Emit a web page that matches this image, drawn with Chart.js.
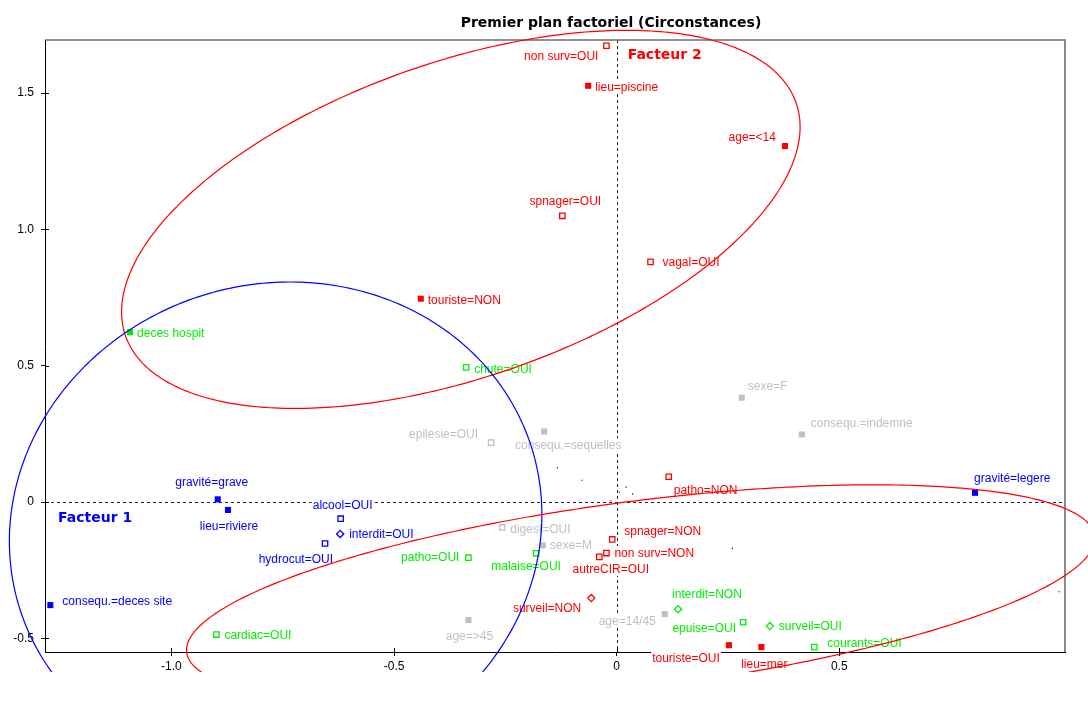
<!DOCTYPE html>
<html><head><meta charset="utf-8">
<script src="https://cdn.jsdelivr.net/npm/chart.js@4.4.1/dist/chart.umd.min.js"></script>
<style>html,body{margin:0;padding:0;background:#fff;overflow:hidden}</style>
</head><body>
<canvas id="c" width="1088" height="717"></canvas>
<script>
// ---- data ----
const modalities = ['non surv=OUI','lieu=piscine','age=<14','spnager=OUI','vagal=OUI','touriste=NON','patho=NON','spnager=NON','non surv=NON','autreCIR=OUI','surveil=NON','touriste=OUI','lieu=mer','gravité=grave','lieu=riviere','alcool=OUI','interdit=OUI','hydrocut=OUI','consequ.=deces site','gravité=legere','deces hospit','chute=OUI','patho=OUI','malaise=OUI','cardiac=OUI','interdit=NON','epuise=OUI','surveil=OUI','courants=OUI','sexe=F','consequ.=indemne','epilesie=OUI','consequ.=sequelles','digest=OUI','sexe=M','age=>45','age=14/45'];
const factor1 = [-0.023,-0.064,0.378,-0.122,0.076,-0.440,0.117,-0.010,-0.023,-0.039,-0.057,0.252,0.325,-0.896,-0.873,-0.620,-0.621,-0.655,-1.272,0.805,-1.093,-0.338,-0.333,-0.181,-0.899,0.138,0.284,0.344,0.444,0.281,0.416,-0.282,-0.163,-0.257,-0.166,-0.333,0.108];
const factor2 = [1.674,1.527,1.306,1.050,0.881,0.746,0.093,-0.137,-0.187,-0.201,-0.352,-0.525,-0.532,0.010,-0.029,-0.061,-0.117,-0.152,-0.378,0.034,0.623,0.494,-0.204,-0.188,-0.486,-0.393,-0.441,-0.455,-0.532,0.383,0.248,0.218,0.259,-0.093,-0.159,-0.433,-0.411];
const groups = ['red','red','red','red','red','red','red','red','red','red','red','red','red','blue','blue','blue','blue','blue','blue','blue','green','green','green','green','green','green','green','green','green','gray','gray','gray','gray','gray','gray','gray','gray'];
const markers = ['open','filled','filled','open','open','filled','open','open','open','open','diamond','filled','filled','filled','filled','open','diamond','open','filled','filled','filled','open','open','open','open','diamond','open','diamond','open','filled','filled','open','filled','open','filled','filled','filled'];
const extraX = [-0.133,-0.078,0.021,0.006,0.036,-0.013,0.260,0.994];
const extraY = [0.126,0.080,0.055,0.036,0.030,0.005,-0.170,-0.329];
const xTicks = [-1.0,-0.5,0,0.5];
const yTicks = [-0.5,0,0.5,1.0,1.5];
const ellipseCx = [-0.350,-0.766,0.054];
const ellipseCy = [1.037,-0.095,-0.338];
const ellipseUx = [0.762,0.598,1.020];
const ellipseUy = [0.339,0.049,0.205];
const ellipseV  = [0.605,0.901,0.345];
const ellipseGroup = ['red','blue','red'];

// ---- layout / style ----
const labelPlacement = [
 [-8,10,'right'],[7,1,'left'],[-9,-9,'right'],[3,-15,'center'],[12,0,'left'],[7,1,'left'],[5,13,'left'],
 [12,-8,'left'],[8,0,'left'],[11.5,12,'center'],[-10,10,'right'],[-9,13,'right'],[3,17,'center'],
 [-6,-17,'center'],[1,16,'center'],[2,-14,'center'],[9,0,'left'],[8,16,'right'],[12,-4,'left'],[-1,-15,'left'],
 [7,1,'left'],[8,2,'left'],[-9,0,'right'],[-10,13,'center'],[8,1,'left'],[-6,-15,'left'],[-7,6,'right'],[9,0,'left'],[13,-4,'left'],
 [6,-11,'left'],[9,-11,'left'],[-13,-8,'right'],[-29,14,'left'],[8,2,'left'],[7,0,'left'],[1,16,'center'],[-9,7,'right']
];
const palette = {red:'#FF0000', blue:'#0000FF', green:'#00EE00', gray:'#C0C0C0'};
const col = g => palette[g];
const fmt = v => v === 0 ? '0' : Number(v).toFixed(1);
const LABEL_FONT = '12px "Liberation Sans", Arial, sans-serif';
const BOLD_FONT = 'bold 14px "DejaVu Sans", Verdana, sans-serif';

Chart.defaults.font.family = '"Liberation Sans", Arial, sans-serif';

const overlay = {
  id: 'overlay',
  beforeDatasetsDraw(chart) {
    const {ctx, chartArea: a, scales: {x, y}} = chart;
    ctx.save();
    // dashed zero axes
    ctx.strokeStyle = '#222'; ctx.lineWidth = 1; ctx.setLineDash([3, 3]);
    const x0 = Math.round(x.getPixelForValue(0)) + 0.5;
    const y0 = Math.round(y.getPixelForValue(0)) + 0.5;
    ctx.beginPath();
    ctx.moveTo(a.left, y0); ctx.lineTo(a.right, y0);
    ctx.moveTo(x0, a.top); ctx.lineTo(x0, a.bottom);
    ctx.stroke();
    ctx.setLineDash([]);
    // point labels with white background
    const meta = chart.getDatasetMeta(0);
    ctx.font = LABEL_FONT; ctx.textBaseline = 'middle';
    meta.data.forEach((pt, i) => {
      const [dx, dy, al] = labelPlacement[i];
      const tx = pt.x + dx, ty = pt.y + dy;
      const w = ctx.measureText(modalities[i]).width;
      const left = al === 'left' ? tx : (al === 'right' ? tx - w : tx - w / 2);
      ctx.fillStyle = '#fff';
      ctx.fillRect(left - 1, ty - 7, w + 2, 14);
      ctx.fillStyle = col(groups[i]);
      ctx.textAlign = al;
      ctx.fillText(modalities[i], tx, ty + 0.5);
    });
    ctx.restore();
  },
  afterDatasetsDraw(chart) {
    const {ctx, chartArea: a, scales: {x, y}} = chart;
    ctx.save();
    // gray frame top/right
    ctx.strokeStyle = '#6e6e6e'; ctx.lineWidth = 1.6;
    ctx.beginPath();
    ctx.moveTo(a.left, a.top); ctx.lineTo(a.right, a.top); ctx.lineTo(a.right, a.bottom);
    ctx.stroke();
    // inner halves of ticks
    ctx.strokeStyle = '#000'; ctx.lineWidth = 1;
    ctx.beginPath();
    xTicks.forEach(v => { const p = Math.round(x.getPixelForValue(v)) + 0.5; ctx.moveTo(p, a.bottom); ctx.lineTo(p, a.bottom - 4); });
    yTicks.forEach(v => { const p = Math.round(y.getPixelForValue(v)) + 0.5; ctx.moveTo(a.left, p); ctx.lineTo(a.left + 4, p); });
    ctx.stroke();
    // ellipses
    ctx.beginPath(); ctx.rect(0, 0, chart.width, 672); ctx.clip();
    ctx.lineWidth = 1.2;
    for (let k = 0; k < ellipseCx.length; k++) {
      ctx.strokeStyle = col(ellipseGroup[k]);
      ctx.beginPath();
      for (let s = 0; s <= 400; s++) {
        const t = s / 400 * Math.PI * 2;
        const vx = ellipseCx[k] + ellipseUx[k] * Math.cos(t);
        const vy = ellipseCy[k] + ellipseUy[k] * Math.cos(t) + ellipseV[k] * Math.sin(t);
        const px = x.getPixelForValue(vx), py = y.getPixelForValue(vy);
        if (s === 0) ctx.moveTo(px, py); else ctx.lineTo(px, py);
      }
      ctx.closePath();
      ctx.stroke();
    }
    ctx.restore();
    // axis factor labels + title
    ctx.save();
    ctx.font = BOLD_FONT; ctx.textBaseline = 'middle'; ctx.textAlign = 'left';
    const x0 = x.getPixelForValue(0), y0 = y.getPixelForValue(0);
    ctx.fillStyle = palette.blue; ctx.fillText('Facteur 1', a.left + 13, y0 + 16);
    ctx.fillStyle = palette.red; ctx.fillText('Facteur 2', x0 + 11, a.top + 15);
    ctx.fillStyle = '#000'; ctx.textAlign = 'center';
    ctx.fillText('Premier plan factoriel (Circonstances)', 611, 23);
    ctx.restore();
  }
};

new Chart(document.getElementById('c'), {
  type: 'scatter',
  data: {
    datasets: [
      {
        data: factor1.map((v, i) => ({x: v, y: factor2[i]})),
        pointStyle: markers.map(m => m === 'diamond' ? 'rectRot' : 'rect'),
        pointRadius: markers.map(m => m === 'diamond' ? 3.6 : (m === 'filled' ? 4.3 : 3.8)),
        backgroundColor: markers.map((m, i) => m === 'filled' ? col(groups[i]) : 'rgba(0,0,0,0)'),
        borderColor: groups.map(col),
        borderWidth: markers.map(m => m === 'filled' ? 0 : 1.3)
      },
      {
        data: extraX.map((v, i) => ({x: v, y: extraY[i]})),
        pointStyle: 'rect', pointRadius: 0.8, backgroundColor: '#000', borderWidth: 0
      }
    ]
  },
  options: {
    responsive: false, animation: false, devicePixelRatio: 1, events: [],
    layout: {padding: {left: 0, right: 23, top: 40, bottom: 0}},
    plugins: {legend: {display: false}, tooltip: {enabled: false}, title: {display: false}},
    scales: {
      x: {
        type: 'linear', min: -1.284, max: 1.007,
        afterBuildTicks: s => { s.ticks = xTicks.map(v => ({value: v})); },
        afterFit: s => { s.height = 65; },
        grid: {drawOnChartArea: false, tickLength: 4, color: '#000', lineWidth: 1},
        border: {color: '#000', width: 1},
        ticks: {autoSkip: false, maxRotation: 0, padding: 3, color: '#000', font: {size: 12}, callback: v => fmt(v)}
      },
      y: {
        type: 'linear', min: -0.55, max: 1.695,
        afterBuildTicks: s => { s.ticks = yTicks.map(v => ({value: v})); },
        afterFit: s => { s.width = 45; },
        grid: {drawOnChartArea: false, tickLength: 4, color: '#000', lineWidth: 1},
        border: {color: '#000', width: 1},
        ticks: {autoSkip: false, padding: 7, color: '#000', font: {size: 12}, callback: v => fmt(v)}
      }
    }
  },
  plugins: [overlay]
});
</script>
</body></html>
